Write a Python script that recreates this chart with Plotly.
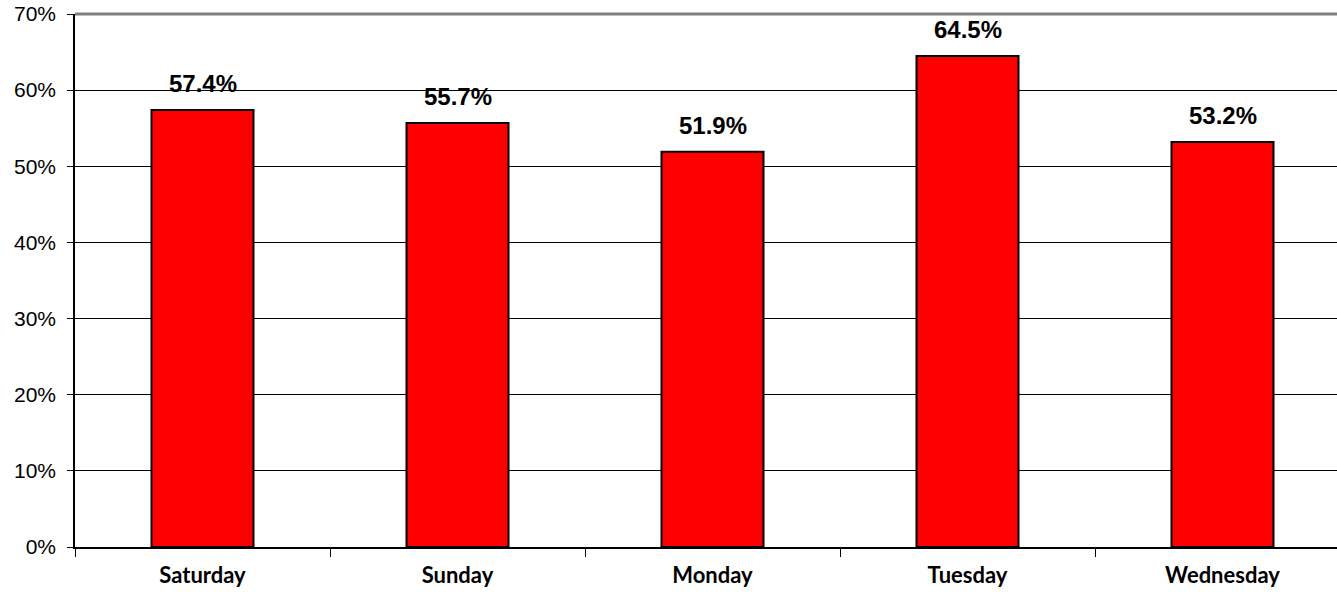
import plotly.graph_objects as go

days = ["Saturday", "Sunday", "Monday", "Tuesday", "Wednesday"]
values = [0.574, 0.557, 0.519, 0.645, 0.532]
value_labels = ["57.4%", "55.7%", "51.9%", "64.5%", "53.2%"]
ytick_vals = [0, 0.1, 0.2, 0.3, 0.4, 0.5, 0.6, 0.7]

xpos = list(range(len(days)))

fig = go.Figure()
fig.add_trace(go.Bar(
    x=xpos, y=values, width=0.4,
    marker=dict(color="#FF0000", line=dict(color="#000000", width=2)),
    hoverinfo="skip",
))

for x, v, t in zip(xpos, values, value_labels):
    fig.add_annotation(x=x, y=v, text="<b>%s</b>" % t, showarrow=False,
                       yanchor="bottom", yshift=11,
                       font=dict(family="Liberation Sans, Arial", size=24, color="#000000"))

fig.add_shape(type="line", xref="paper", yref="paper", x0=0, x1=1, y0=1, y1=1,
              line=dict(color="#808080", width=3), layer="above")

fig.update_layout(
    width=1337, height=597,
    margin=dict(l=75, r=0, t=14, b=50),
    plot_bgcolor="#FFFFFF", paper_bgcolor="#FFFFFF",
    showlegend=False,
    xaxis=dict(
        range=[-0.5, -0.5 + 1262 / 255], tickmode="array", tickvals=xpos,
        ticktext=["<b>%s</b>" % d for d in days], ticks="",
        showline=True, linecolor="#000000", linewidth=1.5, showgrid=False, zeroline=False,
        tickfont=dict(family="Lato, Carlito, Calibri", size=22, color="#000000"),
        ticklabelstandoff=8,
        minor=dict(tickmode="array", tickvals=[-0.5, 0.5, 1.5, 2.5, 3.5], ticks="outside",
                   ticklen=8, tickcolor="#000000", tickwidth=1, showgrid=False),
    ),
    yaxis=dict(
        range=[0, 0.7], tickmode="array", tickvals=ytick_vals, tickformat=".0%",
        ticks="outside", ticklen=6, tickcolor="#000000", tickwidth=1,
        showline=True, linecolor="#000000", linewidth=1.5,
        showgrid=True, gridcolor="#000000", gridwidth=1, zeroline=False,
        tickfont=dict(family="Liberation Sans, Arial", size=21, color="#000000"),
        ticklabelstandoff=7,
    ),
)

fig.write_html("out.html", config={"displayModeBar": False},
               post_script="document.body.style.margin='0';")
